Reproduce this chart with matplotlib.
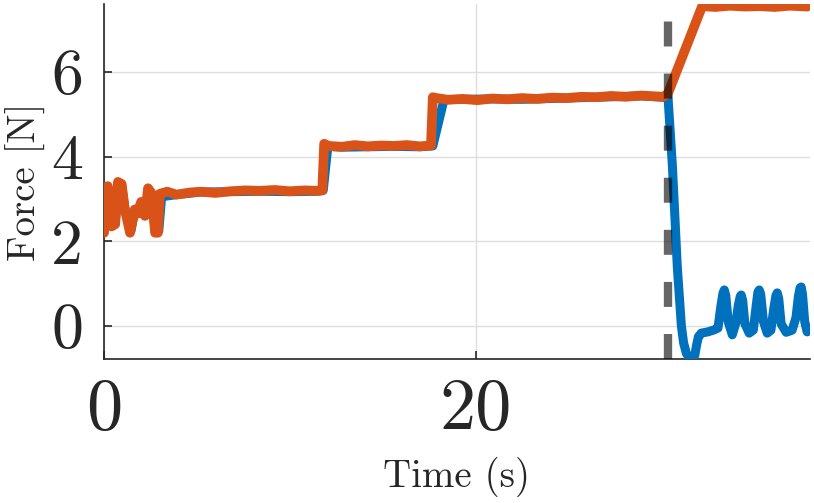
import matplotlib
matplotlib.use("Agg")
import matplotlib.pyplot as plt

# Police type Computer Modern (fournie avec matplotlib)
plt.rcParams['font.family'] = ['cmr10', 'DejaVu Serif']
plt.rcParams['axes.formatter.use_mathtext'] = True

# Données : consigne (orange) et mesure (bleu)
temps_consigne = [0.0, 0.1, 0.2, 0.4, 0.6, 0.75, 0.95, 1.1, 1.4, 1.65, 1.8, 2.0, 2.2,
                  2.37, 2.55, 2.75, 2.9, 3.0, 3.4, 3.9, 4.6, 5.2, 6.0, 6.8, 7.6, 8.4,
                  9.2, 10.0, 10.8, 11.5, 11.75, 11.85, 12.1, 12.8, 13.5, 14.2, 14.9,
                  15.6, 16.3, 17.0, 17.6, 17.7, 17.9, 18.5, 19.3, 20.1, 20.9, 21.7,
                  22.5, 23.3, 24.1, 24.9, 25.7, 26.5, 27.3, 28.1, 28.9, 29.7, 30.1,
                  30.35, 32.2, 32.9, 33.7, 34.5, 35.3, 36.1, 36.9, 37.85]
force_consigne = [2.2, 3.25, 3.3, 2.35, 2.4, 3.4, 3.35, 2.8, 2.2, 2.75, 2.65, 2.93, 2.6,
                  3.25, 3.14, 2.2, 2.2, 3.12, 3.17, 3.1, 3.15, 3.17, 3.14, 3.18, 3.2,
                  3.19, 3.21, 3.18, 3.2, 3.19, 3.2, 4.3, 4.25, 4.23, 4.27, 4.24, 4.26,
                  4.25, 4.27, 4.24, 4.26, 5.4, 5.38, 5.34, 5.36, 5.33, 5.37, 5.35,
                  5.38, 5.36, 5.39, 5.38, 5.41, 5.4, 5.43, 5.41, 5.44, 5.42, 5.41,
                  5.48, 7.55, 7.53, 7.56, 7.54, 7.55, 7.53, 7.56, 7.54]

temps_mesure = [0.0, 0.1, 0.2, 0.45, 0.6, 0.8, 0.95, 1.15, 1.45, 1.65, 1.8, 2.0, 2.2,
                2.4, 2.55, 2.8, 2.95, 3.1, 3.9, 5.2, 6.8, 8.4, 10.0, 11.5, 11.8,
                12.05, 12.8, 14.2, 15.6, 17.0, 17.7, 18.3, 19.3, 20.9, 22.5, 24.1,
                25.7, 27.3, 28.9, 30.1, 30.35, 30.6, 30.86, 31.08, 31.2, 31.35,
                31.5, 31.65, 31.8, 31.9, 32.0, 32.15, 32.5, 32.8, 33.05, 33.2,
                33.32, 33.39, 33.47, 33.6, 33.82, 34.0, 34.15, 34.25, 34.3, 34.38,
                34.5, 34.73, 34.95, 35.1, 35.2, 35.27, 35.35, 35.5, 35.7, 35.9,
                36.05, 36.17, 36.24, 36.32, 36.45, 36.72, 37.04, 37.25, 37.38,
                37.47, 37.53, 37.6, 37.72, 37.85]
force_mesure = [2.3, 3.15, 3.2, 2.4, 2.45, 3.3, 3.3, 2.7, 2.25, 2.7, 2.65, 2.85, 2.6,
                3.15, 3.1, 2.25, 2.25, 3.05, 3.1, 3.16, 3.17, 3.18, 3.17, 3.18,
                3.2, 4.24, 4.22, 4.23, 4.24, 4.23, 4.25, 5.34, 5.35, 5.36, 5.35,
                5.37, 5.39, 5.41, 5.43, 5.4, 5.47, 3.75, 1.4, 0.0, -0.4, -0.65,
                -0.75, -0.77, -0.7, -0.45, -0.25, -0.17, -0.14, -0.1, -0.05, 0.45,
                0.78, 0.85, 0.72, 0.1, -0.21, 0.05, 0.5, 0.7, 0.73, 0.6, 0.05,
                -0.17, -0.1, 0.45, 0.8, 0.85, 0.75, 0.1, -0.17, -0.1, 0.4, 0.72,
                0.78, 0.65, 0.05, -0.15, -0.1, 0.2, 0.7, 0.9, 0.92, 0.75, 0.1,
                -0.14]

t_contact = 30.35

graduations_x = [0, 20]
etiquettes_x = ['0', '20']
graduations_y = [0, 2, 4, 6]
etiquettes_y = ['0', '2', '4', '6']

BLEU = '#0072BD'
ORANGE = '#D95319'
GRIS_TEXTE = '#262626'

fig = plt.figure(figsize=(8.14, 5.03), dpi=100)
ax = fig.add_axes([0.1278, 0.2863, 0.995 - 0.1278, 0.992 - 0.2863])

ax.plot(temps_mesure, force_mesure, color=BLEU, linewidth=6.5,
        solid_capstyle='round', solid_joinstyle='round', zorder=3)
ax.plot(temps_consigne, force_consigne, color=ORANGE, linewidth=7,
        solid_capstyle='round', solid_joinstyle='round', zorder=4)

ymin, ymax = -0.78, 7.6
ax.plot([t_contact, t_contact], [ymin, ymax], color='black', alpha=0.6,
        linewidth=6, dashes=(3, 3.25), zorder=5)

ax.set_xlim(0, 38)
ax.set_ylim(ymin, ymax)

ax.set_xticks(graduations_x)
ax.set_xticklabels(etiquettes_x, fontsize=52, color=GRIS_TEXTE)
ax.set_yticks(graduations_y)
ax.set_yticklabels(etiquettes_y, fontsize=46, color=GRIS_TEXTE)

ax.tick_params(axis='both', direction='in', length=6, width=1.2, color=GRIS_TEXTE)
ax.tick_params(axis='x', pad=14)
ax.tick_params(axis='y', pad=15)

ax.grid(True, color='#dedede', linewidth=1.0, zorder=0)
ax.set_axisbelow(True)

for cote in ['top', 'right']:
    ax.spines[cote].set_visible(False)
for cote in ['left', 'bottom']:
    ax.spines[cote].set_color(GRIS_TEXTE)
    ax.spines[cote].set_linewidth(1.2)

ax.set_xlabel('Time (s)', fontsize=28, color=GRIS_TEXTE, labelpad=10)
ax.set_ylabel('Force [N]', fontsize=28, color=GRIS_TEXTE, labelpad=4)

fig.savefig('out.png', dpi=100)
